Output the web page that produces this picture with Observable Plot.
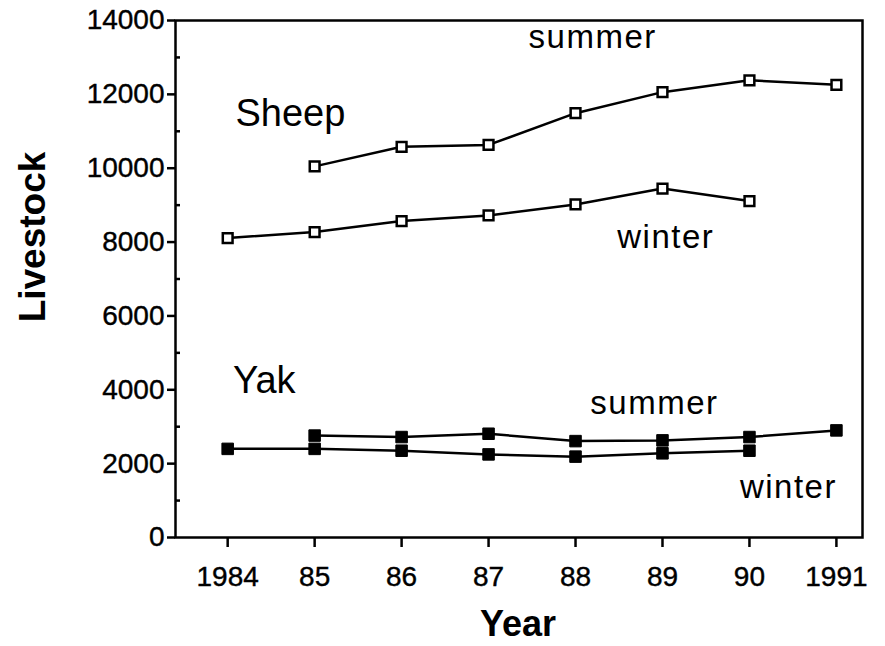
<!DOCTYPE html>
<html>
<head>
<meta charset="utf-8">
<script src="https://cdn.jsdelivr.net/npm/d3@7"></script>
<script src="https://cdn.jsdelivr.net/npm/@observablehq/plot@0.6"></script>
<style>
  html, body { margin: 0; padding: 0; background: white; }
  svg g[aria-label="x-axis tick"] path,
  svg g[aria-label="y-axis tick"] path { stroke-width: 2.5px; }
  svg g[aria-label="x-axis tick label"] text,
  svg g[aria-label="y-axis tick label"] text { stroke: black; stroke-width: 0.4px; }
</style>
</head>
<body>
<div id="chart"></div>
<script>
const years = [1984, 1985, 1986, 1987, 1988, 1989, 1990, 1991];
const xTickLabels = ["1984", "85", "86", "87", "88", "89", "90", "1991"];
const yTicks = [0, 2000, 4000, 6000, 8000, 10000, 12000, 14000];
const yMinorTicks = [1000, 3000, 5000, 7000, 9000, 11000, 13000];

const sheepSummer = [null, 10050, 10580, 10630, 11490, 12060, 12380, 12260];
const sheepWinter = [8110, 8270, 8570, 8720, 9020, 9450, 9110, null];
const yakSummer = [null, 2760, 2720, 2810, 2610, 2630, 2720, 2900];
const yakWinter = [2400, 2400, 2350, 2250, 2190, 2280, 2350, null];

const labelOf = new Map(years.map((y, i) => [y, xTickLabels[i]]));
function rows(values) {
  return years.map((year, i) => ({year, value: values[i]})).filter(d => d.value != null);
}
const series = [
  {animal: "Sheep", season: "summer", data: rows(sheepSummer)},
  {animal: "Sheep", season: "winter", data: rows(sheepWinter)},
  {animal: "Yak", season: "summer", data: rows(yakSummer)},
  {animal: "Yak", season: "winter", data: rows(yakWinter)}
];

const annotations = [
  {text: "Sheep", year: 1984.09, value: 11480, size: 38},
  {text: "summer", year: 1987.46, value: 13540, size: 33},
  {text: "winter", year: 1988.48, value: 8120, size: 33},
  {text: "Yak", year: 1984.06, value: 4230, size: 38},
  {text: "summer", year: 1988.17, value: 3630, size: 33},
  {text: "winter", year: 1989.89, value: 1350, size: 33}
];

const marks = [
  Plot.frame({stroke: "black", strokeWidth: 2.5}),
  Plot.axisX({ticks: years, tickFormat: d => labelOf.get(d), tickSize: 10, tickPadding: 19, label: null, fontSize: 28}),
  Plot.axisY({ticks: yTicks, tickFormat: d => String(d), tickSize: 8, tickPadding: 3, label: null, fontSize: 28}),
  Plot.axisY({ticks: yMinorTicks, tickSize: -5, tickFormat: () => "", label: null})
];
for (const s of series) {
  marks.push(Plot.line(s.data, {x: "year", y: "value", stroke: "black", strokeWidth: 2.5}));
  if (s.animal === "Sheep") {
    marks.push(Plot.dot(s.data, {x: "year", y: "value", symbol: "square", r: 5.5, stroke: "black", strokeWidth: 2.5, fill: "white"}));
  } else {
    marks.push(Plot.dot(s.data, {x: "year", y: "value", symbol: "square", r: 6.5, stroke: "black", strokeWidth: 1, fill: "black"}));
  }
}
for (const a of annotations) {
  marks.push(Plot.text([a], {x: "year", y: "value", text: "text", textAnchor: "start", lineAnchor: "middle", fontSize: a.size, fill: "black"}));
}

const chart = Plot.plot({
  width: 885,
  height: 646,
  marginLeft: 175,
  marginRight: 23,
  marginTop: 20,
  marginBottom: 109,
  style: {fontFamily: "'Liberation Sans', Arial, sans-serif", fontSize: "28px", background: "white", color: "black"},
  x: {domain: [1983.4, 1991.3]},
  y: {domain: [0, 14000]},
  marks
});

const svg = d3.select(chart);
svg.selectAll('g[aria-label="text"] text').each(function() {
  const t = d3.select(this);
  const txt = t.text();
  if (txt === "summer" || txt === "winter") t.style("letter-spacing", "1.5px");
});
svg.append("text")
  .attr("transform", "translate(45,237) rotate(-90)")
  .attr("text-anchor", "middle")
  .attr("font-family", "'Liberation Sans', Arial, sans-serif")
  .attr("font-weight", "bold")
  .attr("font-size", 37)
  .attr("fill", "black")
  .text("Livestock");
svg.append("text")
  .attr("x", 518)
  .attr("y", 636)
  .attr("text-anchor", "middle")
  .attr("font-family", "'Liberation Sans', Arial, sans-serif")
  .attr("font-weight", "bold")
  .attr("font-size", 36)
  .attr("fill", "black")
  .text("Year");

document.getElementById("chart").appendChild(chart);
</script>
</body>
</html>
